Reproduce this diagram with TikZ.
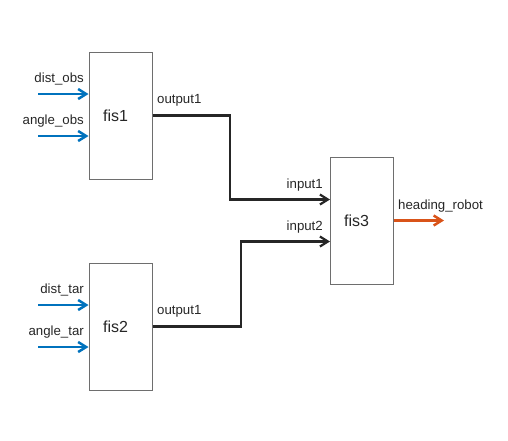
\documentclass[tikz,border=0pt]{standalone}
\usepackage{fontspec}
\setmainfont{Liberation Sans}
\usepackage{xcolor}
\definecolor{InBlue}{HTML}{0072BD}
\definecolor{OutOrange}{HTML}{D95319}
\definecolor{WireBlack}{HTML}{262626}
\definecolor{BoxGrey}{HTML}{6E6E6E}
\usetikzlibrary{arrows.meta,positioning}
\newcommand\BoxW{63pt}
\newcommand\BoxH{127pt}
\tikzstyle{fisbox}=[rectangle,draw=BoxGrey,line width=1pt,fill=white,
                     minimum width=\BoxW,minimum height=\BoxH,inner sep=0pt]
\tikzstyle{fisname}=[font=\fontsize{16}{18}\selectfont,text=WireBlack,
                     inner sep=0pt,anchor=base]
\tikzstyle{sig}=[font=\fontsize{13.25}{15}\selectfont,text=WireBlack,inner sep=0pt]
\tikzstyle{inwire}=[draw=InBlue,line width=2.5pt,
                     -{Straight Barb[length=8pt,width=10pt]}]
\tikzstyle{wire}=[draw=WireBlack,line width=2.2pt,
                     -{Straight Barb[length=8pt,width=10pt]}]
\tikzstyle{outwire}=[draw=OutOrange,line width=2.5pt,
                     -{Straight Barb[length=8pt,width=10pt]}]

\begin{document}
\begin{tikzpicture}[x=1pt,y=-1pt]
      \useasboundingbox (0,0) rectangle (508,440);
      % blocks
      \node[fisbox] (fis1) at (120.5,115.5) {};
      \node[fisbox] (fis2) at (120.5,326.5) {};
      \node[fisbox] (fis3) at (361.5,220.5) {};
      \node[fisname] (fis1name) at ([xshift=-5pt,yshift=-6pt]fis1.center) {fis1};
      \node[fisname] (fis2name) at ([xshift=-5pt,yshift=-6pt]fis2.center) {fis2};
      \node[fisname] (fis3name) at ([xshift=-5pt,yshift=-6pt]fis3.center) {fis3};
      % inputs
      \coordinate (obs1) at (38,94);
      \coordinate (obs2) at (38,136);
      \coordinate (tar1) at (38,305);
      \coordinate (tar2) at (38,347);
      \draw[inwire] (obs1) -- (obs1 -| fis1.west);
      \draw[inwire] (obs2) -- (obs2 -| fis1.west);
      \draw[inwire] (tar1) -- (tar1 -| fis2.west);
      \draw[inwire] (tar2) -- (tar2 -| fis2.west);
      \node[sig,anchor=base east] (obs1lab) at (84,82.5) {dist\_obs};
      \node[sig,anchor=base east] (obs2lab) at (84,124.5) {angle\_obs};
      \node[sig,anchor=base east] (tar1lab) at (84,293.5) {dist\_tar};
      \node[sig,anchor=base east] (tar2lab) at (84,335.5) {angle\_tar};
      % wires to fis3
      \coordinate (fis3in1) at (330,199.5);
      \coordinate (fis3in2) at (330,241.5);
      \draw[wire] (fis1.east) -- (230,115.5) |- (fis3in1);
      \draw[wire] (fis2.east) -- (241,326.5) |- (fis3in2);
      \node[sig,anchor=base west] (out1lab) at (157,103.5) {output1};
      \node[sig,anchor=base west] (out2lab) at (157,314.5) {output1};
      \node[sig,anchor=base east] (in1lab) at (323,188) {input1};
      \node[sig,anchor=base east] (in2lab) at (323,230) {input2};
      % output
      \coordinate (headend) at (444,220.5);
      \draw[outwire] (fis3.east) -- (headend);
      \node[sig,anchor=base west] (headlab) at (398,209) {heading\_robot};
\end{tikzpicture}
\end{document}
